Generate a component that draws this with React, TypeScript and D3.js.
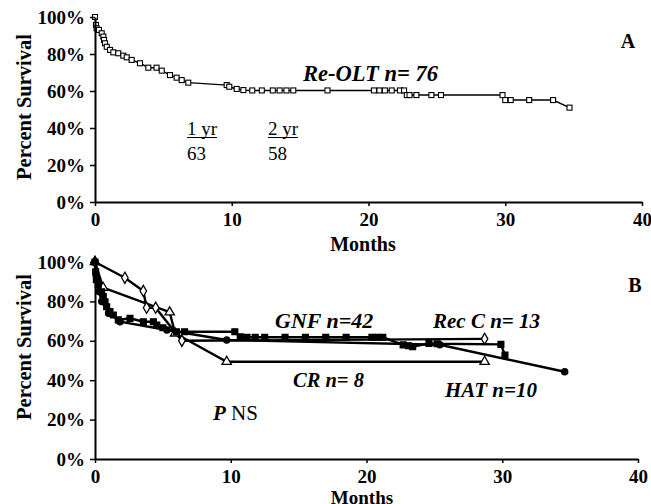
import React, {useEffect, useRef} from 'react'
import * as d3 from 'd3'

const width = 651
const height = 504
const font = '"Liberation Serif", "Times New Roman", Times, serif'

// panel A: Re-OLT survival
const reOltMonths = [0, 0.07, 0.12, 0.29, 0.49, 0.61, 0.66, 0.73, 0.86, 1.1, 1.34, 1.7, 2.07, 2.32, 2.68, 3.29, 3.9, 4.5, 4.88, 5.48, 5.97, 6.34, 6.82, 9.63, 9.82, 10.36, 10.85, 11.5, 12.2, 13.0, 13.5, 14.0, 14.5, 17.0, 20.4, 20.8, 21.2, 21.7, 22.3, 22.6, 22.8, 23.0, 23.5, 24.6, 25.3, 29.8, 30.0, 30.4, 31.75, 33.5, 34.7]
const reOltSurvival = [100, 95.7, 93.9, 93, 91.2, 89.4, 87.6, 85.8, 83.9, 82.2, 80.9, 80.4, 79.1, 78.2, 76.8, 75, 72.6, 72.6, 71, 68.6, 67.2, 65.9, 64.5, 63.2, 62.3, 61.1, 60.5, 60.3, 60.3, 60.3, 60.3, 60.3, 60.3, 60.3, 60.3, 60.3, 60.3, 60.3, 60.3, 60.3, 57.8, 57.8, 57.8, 57.8, 57.8, 57.8, 55.1, 55.1, 55.1, 55.1, 51]

// panel B: by indication
const gnfMonths = [0, 0.05, 0.1, 0.24, 0.49, 0.61, 0.74, 0.86, 1.1, 1.35, 1.72, 2.58, 3.56, 4.3, 4.55, 5.0, 6.0, 6.6, 10.3, 10.7, 11.2, 11.8, 12.5, 14, 15.5, 17, 18.5, 20.4, 20.8, 21.2, 22.7, 23.1, 23.4, 24.6, 25.2, 29.9, 30.2]
const gnfSurvival = [100, 95, 91, 88.3, 84.9, 82.4, 79.8, 77.3, 74.8, 73.1, 70.6, 71.4, 69.7, 69.7, 68, 66.6, 64.6, 64.6, 64.6, 62, 61.8, 61.8, 61.8, 61.8, 61.8, 61.8, 61.8, 61.8, 61.8, 61.8, 57.9, 57.5, 57, 58.7, 58.5, 58.2, 52.8]
const recCMonths = [0, 2.2, 3.56, 3.8, 4.47, 6.4, 28.7]
const recCSurvival = [100, 92, 85.3, 76.8, 76.8, 60, 61]
const crMonths = [0, 0.6, 5.5, 5.9, 9.7, 28.7]
const crSurvival = [100, 87, 74.5, 63.8, 49.4, 49.4]
const hatMonths = [0, 0.1, 0.3, 0.5, 1.0, 1.84, 5.3, 9.7, 25.4, 34.6]
const hatSurvival = [100, 93, 85, 80, 74, 69.7, 65.5, 60.4, 58, 44.3]

const pctTicks = [0, 20, 40, 60, 80, 100]
const monthTicks = [0, 10, 20, 30, 40]

const zip = (xs: number[], ys: number[]) => xs.map((m, i) => ({m, s: ys[i]}))

const App = () => {
  const chartRef = useRef<SVGSVGElement>(null)

  useEffect(() => {
    drawChart()
  }, [])

  const drawAxes = (svg, x, y, x0, y0, xPad) => {
    const gy = svg
      .append('g')
      .attr('transform', `translate(${x0},0)`)
      .call(
        d3
          .axisLeft(y)
          .tickValues(pctTicks)
          .tickFormat(d => `${d}%`)
          .tickSize(5)
          .tickPadding(5)
          .tickSizeOuter(0),
      )
    const gx = svg
      .append('g')
      .attr('transform', `translate(0,${y0})`)
      .call(
        d3
          .axisBottom(x)
          .tickValues(monthTicks)
          .tickSize(4)
          .tickPadding(xPad)
          .tickSizeOuter(0),
      )
    for (const g of [gx, gy]) {
      g.select('.domain').attr('stroke', '#000').attr('stroke-width', 2)
      g.selectAll('.tick line').attr('stroke', '#000').attr('stroke-width', 1.5)
      g.selectAll('text')
        .attr('fill', '#000')
        .style('font-family', font)
        .style('font-weight', 'bold')
        .style('font-size', '19px')
    }
  }

  const label = (svg, x, y, txt, size, italic = true, anchor = 'start') =>
    svg
      .append('text')
      .attr('x', x)
      .attr('y', y)
      .attr('text-anchor', anchor)
      .style('font-family', font)
      .style('font-weight', 'bold')
      .style('font-style', italic ? 'italic' : 'normal')
      .style('font-size', `${size}px`)
      .text(txt)

  const drawChart = () => {
    const svg = d3.select(chartRef.current)
    svg.selectAll('*').remove()

    // ---------- panel A
    const xA = d3.scaleLinear().domain([0, 40]).range([95, 642])
    const yA = d3.scaleLinear().domain([0, 100]).range([202, 17])
    const lineA = d3
      .line<{m: number; s: number}>()
      .x(d => xA(d.m))
      .y(d => yA(d.s))

    const reOlt = zip(reOltMonths, reOltSurvival)
    svg
      .append('path')
      .attr('d', lineA(reOlt))
      .attr('fill', 'none')
      .attr('stroke', '#000')
      .attr('stroke-width', 1.4)
    svg
      .selectAll('rect.a')
      .data(reOlt)
      .enter()
      .append('rect')
      .attr('class', 'a')
      .attr('x', d => xA(d.m) - 2.5)
      .attr('y', d => yA(d.s) - 2.5)
      .attr('width', 5)
      .attr('height', 5)
      .attr('fill', '#fff')
      .attr('stroke', '#000')
      .attr('stroke-width', 1.1)

    drawAxes(svg, xA, yA, 95, 202, 7)

    label(svg, 31, 107, 'Percent Survival', 20.5, false, 'middle').attr(
      'transform',
      'rotate(-90,31,107)',
    )
    label(svg, 363, 251, 'Months', 20, false, 'middle')
    label(svg, 628, 48, 'A', 20, false, 'middle')
    label(svg, 303, 81, 'Re-OLT n= 76', 22.5)

    const yrText = [
      {x: 187, t: '1 yr', v: '63'},
      {x: 268, t: '2 yr', v: '58'},
    ]
    yrText.forEach(d => {
      const t = svg
        .append('text')
        .attr('x', d.x)
        .attr('y', 135)
        .style('font-family', font)
        .style('font-size', '19px')
        .text(d.t)
      const w = (t.node() as SVGTextElement).getComputedTextLength()
      svg
        .append('line')
        .attr('x1', d.x)
        .attr('x2', d.x + w)
        .attr('y1', 137.5)
        .attr('y2', 137.5)
        .attr('stroke', '#000')
        .attr('stroke-width', 1)
      svg
        .append('text')
        .attr('x', d.x)
        .attr('y', 160)
        .style('font-family', font)
        .style('font-size', '19px')
        .text(d.v)
    })

    // ---------- panel B
    const xB = d3.scaleLinear().domain([0, 40]).range([95, 638])
    const yB = d3.scaleLinear().domain([0, 100]).range([459, 262])
    const lineB = d3
      .line<{m: number; s: number}>()
      .x(d => xB(d.m))
      .y(d => yB(d.s))

    const series = [
      {data: zip(crMonths, crSurvival), mark: 'triangle'},
      {data: zip(recCMonths, recCSurvival), mark: 'diamond'},
      {data: zip(hatMonths, hatSurvival), mark: 'circle'},
      {data: zip(gnfMonths, gnfSurvival), mark: 'square'},
    ]
    series.forEach(s => {
      svg
        .append('path')
        .attr('d', lineB(s.data))
        .attr('fill', 'none')
        .attr('stroke', '#000')
        .attr('stroke-width', 2.4)
    })
    series.forEach(s => {
      const open = s.mark === 'triangle' || s.mark === 'diamond'
      const sym =
        s.mark === 'triangle'
          ? d3.symbol(d3.symbolTriangle, 38)
          : s.mark === 'diamond'
            ? d3.symbol(d3.symbolDiamond, 36)
            : s.mark === 'circle'
              ? d3.symbol(d3.symbolCircle, 30)
              : d3.symbol(d3.symbolSquare, 34)
      svg
        .append('g')
        .selectAll('path')
        .data(s.data)
        .enter()
        .append('path')
        .attr('d', sym)
        .attr('transform', d => `translate(${xB(d.m)},${yB(d.s)})`)
        .attr('fill', open ? '#fff' : '#000')
        .attr('stroke', '#000')
        .attr('stroke-width', 1.3)
    })

    drawAxes(svg, xB, yB, 95, 459, 7)

    label(svg, 31, 347, 'Percent Survival', 20.5, false, 'middle').attr(
      'transform',
      'rotate(-90,31,347)',
    )
    label(svg, 362, 504, 'Months', 19, false, 'middle')
    label(svg, 635, 292, 'B', 20, false, 'middle')
    label(svg, 275, 328, 'GNF n=42', 22)
    label(svg, 433, 328, 'Rec C n= 13', 21)
    label(svg, 293, 387, 'CR n= 8', 20.5)
    label(svg, 445, 397, 'HAT n=10', 21)

    const pns = label(svg, 213, 420, 'P', 21)
    pns
      .append('tspan')
      .style('font-style', 'normal')
      .style('font-weight', 'normal')
      .text(' NS')
  }

  return (
    <svg
      ref={chartRef}
      width={width}
      height={height}
      style={{position: 'absolute', left: 0, top: 0, background: '#fff'}}
    ></svg>
  )
}

export default App
